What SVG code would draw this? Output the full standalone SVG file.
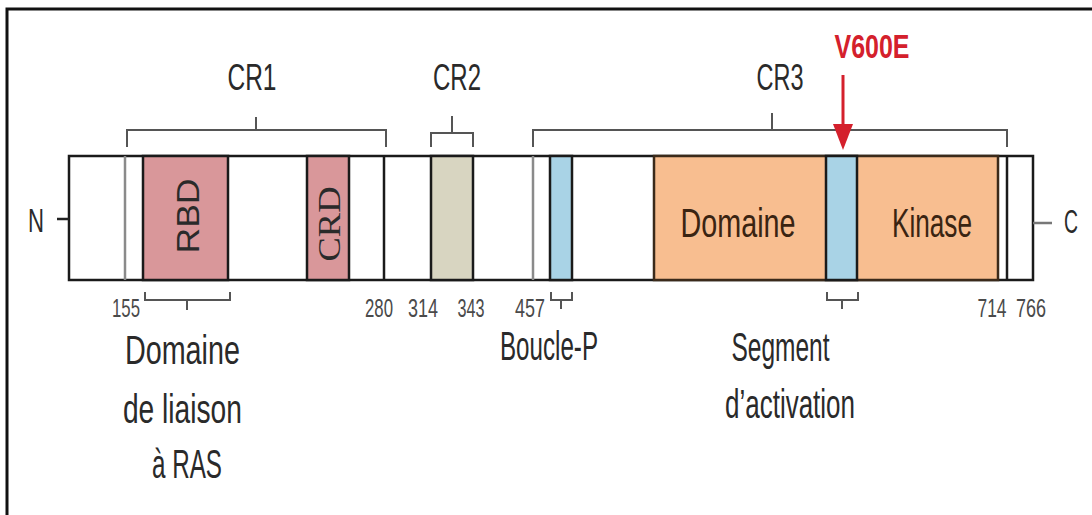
<svg xmlns="http://www.w3.org/2000/svg" width="1092" height="515" viewBox="0 0 1092 515">
  <style>
    .lbl { font-family: "Liberation Sans", Arial, sans-serif; fill: #2a2a2a; }
    .num { font-family: "Liberation Sans", Arial, sans-serif; font-size: 25px; fill: #4a4a4a; }
    .dom { font-family: "Liberation Sans", Arial, sans-serif; font-size: 40px; fill: #3a2412; }
    .box { stroke: #1a1a1a; stroke-width: 2.5; }
    .brace { fill: none; stroke: #555; stroke-width: 2; }
    .div { stroke: #1a1a1a; stroke-width: 2.5; }
    .gdiv { stroke: #8a8a8a; stroke-width: 2.5; }
  </style>

  <rect width="1092" height="515" fill="#ffffff"/>
  <!-- frame -->
  <path d="M7,515 V9 H1092" fill="none" stroke="#111" stroke-width="3"/>

  <!-- protein bar -->
  <g id="bar">
    <rect x="69" y="156" width="964" height="124" fill="#ffffff" class="box"/>
  </g>

  <g id="rbd">
    <rect x="143" y="156" width="85" height="124" fill="#d9979a" class="box"/>
    <text class="lbl" font-size="32" transform="translate(199,216) rotate(-90)" text-anchor="middle" textLength="75" lengthAdjust="spacingAndGlyphs">RBD</text>
  </g>
  <g id="crd">
    <rect x="307" y="156" width="42" height="124" fill="#d9979a" class="box"/>
    <text font-family="Liberation Serif, Times New Roman, serif" font-size="32" fill="#2a2a2a" transform="translate(340,224) rotate(-90)" text-anchor="middle" textLength="75" lengthAdjust="spacingAndGlyphs">CRD</text>
  </g>
  <g id="cr2box">
    <rect x="431" y="156" width="42" height="124" fill="#d8d5c1" class="box"/>
  </g>
  <g id="boucle">
    <rect x="550" y="156" width="22" height="124" fill="#a9d3e6" class="box"/>
  </g>
  <g id="kinase">
    <rect x="654" y="156" width="344" height="124" fill="#f8be90" stroke="#3b2a1a" stroke-width="2.5"/>
    <text class="dom" x="738" y="237" text-anchor="middle" textLength="115" lengthAdjust="spacingAndGlyphs">Domaine</text>
    <text class="dom" x="932" y="237" text-anchor="middle" textLength="80" lengthAdjust="spacingAndGlyphs">Kinase</text>
  </g>
  <g id="activation">
    <rect x="826" y="156" width="31" height="124" fill="#a9d3e6" class="box"/>
  </g>

  <!-- division lines -->
  <g id="dividers">
    <line x1="125" y1="156" x2="125" y2="280" class="gdiv"/>
    <line x1="384" y1="156" x2="384" y2="280" class="div"/>
    <line x1="533" y1="156" x2="533" y2="280" class="gdiv"/>
    <line x1="1007" y1="156" x2="1007" y2="280" class="div"/>
  </g>

  <!-- termini -->
  <g id="nterm">
    <line x1="57" y1="219" x2="69" y2="219" stroke="#222" stroke-width="2.5"/>
    <text class="lbl" font-size="34" x="36" y="232" text-anchor="middle" textLength="16" lengthAdjust="spacingAndGlyphs">N</text>
  </g>
  <g id="cterm">
    <line x1="1033" y1="223" x2="1052" y2="223" stroke="#777" stroke-width="2.5"/>
    <text class="lbl" font-size="34" x="1071" y="233" text-anchor="middle" fill="#555" textLength="14" lengthAdjust="spacingAndGlyphs">C</text>
  </g>

  <!-- region braces and labels -->
  <g id="connectors">
    <path class="brace" d="M127,147 V130 H386 V147 M256,130 V117"/>
    <path class="brace" d="M431,147 V133 H473 V147 M452,133 V116"/>
    <path class="brace" d="M533,147 V130 H1007 V147 M772,130 V113"/>
    <path class="brace" d="M145,292 V300 H230 V292 M187,300 V310"/>
    <path class="brace" d="M551,292 V300 H572 V292 M561,300 V309"/>
    <path class="brace" d="M827,292 V300 H858 V292 M842,300 V309"/>
    <!-- mutation arrow -->
    <line x1="843" y1="75" x2="843" y2="128" stroke="#d4202c" stroke-width="3"/>
    <path d="M833,124 L853,124 L843,150 Z" fill="#d4202c"/>
  </g>

  <g id="cr-labels">
    <text class="lbl" font-size="37" x="252" y="90" text-anchor="middle" textLength="49" lengthAdjust="spacingAndGlyphs">CR1</text>
    <text class="lbl" font-size="37" x="457" y="90" text-anchor="middle" textLength="48" lengthAdjust="spacingAndGlyphs">CR2</text>
    <text class="lbl" font-size="37" x="780" y="90" text-anchor="middle" textLength="47" lengthAdjust="spacingAndGlyphs">CR3</text>
    <text font-family="Liberation Sans, Arial, sans-serif" font-weight="bold" font-size="34" fill="#d4202c" x="872" y="58" text-anchor="middle" textLength="75" lengthAdjust="spacingAndGlyphs">V600E</text>
  </g>

  <g id="positions">
    <text class="num" x="126" y="317" text-anchor="middle" textLength="28" lengthAdjust="spacingAndGlyphs">155</text>
    <text class="num" x="379" y="317" text-anchor="middle" textLength="28" lengthAdjust="spacingAndGlyphs">280</text>
    <text class="num" x="423" y="317" text-anchor="middle" textLength="30" lengthAdjust="spacingAndGlyphs">314</text>
    <text class="num" x="471" y="317" text-anchor="middle" textLength="27" lengthAdjust="spacingAndGlyphs">343</text>
    <text class="num" x="530" y="317" text-anchor="middle" textLength="30" lengthAdjust="spacingAndGlyphs">457</text>
    <text class="num" x="992" y="317" text-anchor="middle" textLength="29" lengthAdjust="spacingAndGlyphs">714</text>
    <text class="num" x="1031" y="317" text-anchor="middle" textLength="30" lengthAdjust="spacingAndGlyphs">766</text>
  </g>

  <g id="annotations">
    <text class="lbl" font-size="40" text-anchor="middle">
      <tspan x="188" y="364" textLength="115" lengthAdjust="spacingAndGlyphs">Domaine</tspan>
      <tspan x="188" y="423" textLength="119" lengthAdjust="spacingAndGlyphs">de liaison</tspan>
      <tspan x="187" y="478" textLength="70" lengthAdjust="spacingAndGlyphs">à RAS</tspan>
    </text>
    <text class="lbl" font-size="40" x="549" y="360" text-anchor="middle" textLength="98" lengthAdjust="spacingAndGlyphs">Boucle-P</text>
    <text class="lbl" font-size="40" text-anchor="middle">
      <tspan x="786" y="361" textLength="98" lengthAdjust="spacingAndGlyphs">Segment</tspan>
      <tspan x="790" y="418" textLength="130" lengthAdjust="spacingAndGlyphs">d’activation</tspan>
    </text>
  </g>
</svg>
